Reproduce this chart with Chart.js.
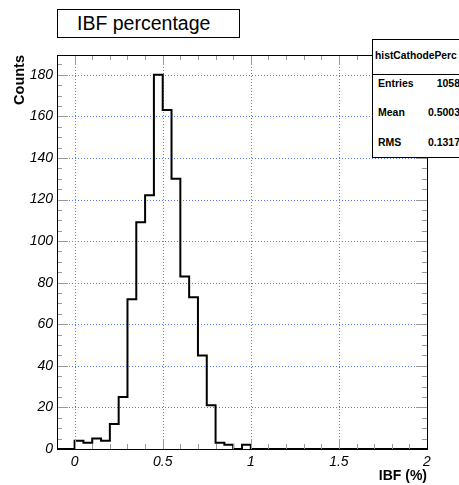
<!DOCTYPE html>
<html>
<head>
<meta charset="utf-8">
<script src="https://cdn.jsdelivr.net/npm/chart.js@4.4.1/dist/chart.umd.min.js"></script>
<style>
  html, body { margin: 0; padding: 0; background: #fff; }
  #wrap { position: relative; width: 459px; height: 485px; overflow: hidden; font-family: "Liberation Sans", Arial, sans-serif; }
  canvas { position: absolute; left: 0; top: 0; }
  #titleBox { position: absolute; left: 57px; top: 9px; width: 181px; height: 27px; border: 1px solid #000; background: #fff; box-sizing: content-box; }
  #titleBox span { position: absolute; left: 19px; top: 2px; font-size: 19.5px; line-height: 22px; color: #000; white-space: nowrap; }
  #stats { position: absolute; left: 372px; top: 39px; width: 100px; height: 117px; border: 1px solid #000; background: #fff; font-weight: bold; font-size: 10.5px; color: #000; }
  #stats .hdr { position: absolute; left: 2px; top: 10px; font-size: 10.3px; white-space: nowrap; }
  #stats .sep { position: absolute; left: 0; top: 34px; width: 100%; height: 1px; background: #000; }
  #stats .row { position: absolute; left: 5px; width: 82px; white-space: nowrap; }
  #stats .row .v { position: absolute; right: 0; top: 0; }
</style>
</head>
<body>
<div id="wrap">
  <canvas id="c" width="459" height="485"></canvas>
  <div id="titleBox"><span>IBF percentage</span></div>
  <div id="stats">
    <div class="hdr" id="statsName"></div>
    <div class="sep"></div>
    <div class="row" style="top:37px"><span id="l0"></span><span class="v" id="v0"></span></div>
    <div class="row" style="top:66px"><span id="l1"></span><span class="v" id="v1"></span></div>
    <div class="row" style="top:96px"><span id="l2"></span><span class="v" id="v2"></span></div>
  </div>
</div>
<script>
// ---- data ----
const histName = "histCathodePerc";
const binEdges = [-0.1, -0.05, 0, 0.05, 0.1, 0.15, 0.2, 0.25, 0.3, 0.35, 0.4, 0.45, 0.5, 0.55, 0.6, 0.65, 0.7, 0.75, 0.8, 0.85, 0.9, 0.95,
                  1.0, 1.05, 1.1, 1.15, 1.2, 1.25, 1.3, 1.35, 1.4, 1.45, 1.5, 1.55, 1.6, 1.65, 1.7, 1.75, 1.8, 1.85, 1.9, 1.95, 2.0];
const counts = [0, 0, 4, 3, 5, 4, 12, 25, 72, 109, 122, 180, 163, 130, 83, 73, 45, 21, 3, 2, 0, 2,
                0, 0, 0, 0, 0, 0, 0, 0, 0, 0, 0, 0, 0, 0, 0, 0, 0, 0, 0, 0];
const xTickValues = [0, 0.5, 1, 1.5, 2];
const xTickLabels = ["0", "0.5", "1", "1.5", "2"];
const yTickValues = [0, 20, 40, 60, 80, 100, 120, 140, 160, 180];
const yTickLabels = ["0", "20", "40", "60", "80", "100", "120", "140", "160", "180"];
const statLabels = ["Entries", "Mean", "RMS"];
const statValues = ["1058", "0.5003", "0.1317"];

document.getElementById('statsName').textContent = histName;
statLabels.forEach((l, i) => {
  document.getElementById('l' + i).textContent = l;
  document.getElementById('v' + i).textContent = statValues[i];
});

// stepped outline points: each bin's low edge with its count, closed by the last edge
const points = counts.map((c, i) => ({ x: binEdges[i], y: c }));
points.push({ x: binEdges[binEdges.length - 1], y: counts[counts.length - 1] });

const FONT = "'Liberation Sans', Arial, sans-serif";

const rootFrame = {
  id: 'rootFrame',
  beforeDatasetsDraw(chart) {
    const { ctx, chartArea: a, scales: { x, y } } = chart;
    ctx.save();
    ctx.strokeStyle = 'rgb(90,120,255)';
    ctx.lineWidth = 1;
    ctx.setLineDash([1, 2]);
    xTickValues.forEach(v => {
      const px = Math.round(x.getPixelForValue(v)) + 0.5;
      if (px <= a.left + 1 || px >= a.right - 1) return;
      ctx.beginPath(); ctx.moveTo(px, a.top); ctx.lineTo(px, a.bottom); ctx.stroke();
    });
    yTickValues.forEach(v => {
      const py = Math.round(y.getPixelForValue(v)) + 0.5;
      if (py >= a.bottom - 1 || py <= a.top + 1) return;
      ctx.beginPath(); ctx.moveTo(a.left, py); ctx.lineTo(a.right, py); ctx.stroke();
    });
    ctx.restore();
  },
  afterDatasetsDraw(chart) {
    const { ctx, chartArea: a, scales: { x, y } } = chart;
    ctx.save();
    ctx.setLineDash([]);
    ctx.lineWidth = 1;
    ctx.strokeStyle = '#999';
    // x ticks: major each 0.5, minor each 0.1, drawn inward at bottom and top
    for (let k = -1; k <= 20; k++) {
      const v = k / 10;
      const px = Math.round(x.getPixelForValue(v)) + 0.5;
      if (px < a.left || px > a.right) continue;
      const len = (k % 5 === 0) ? 10 : 5;
      ctx.beginPath();
      ctx.moveTo(px, a.bottom); ctx.lineTo(px, a.bottom - len);
      ctx.moveTo(px, a.top); ctx.lineTo(px, a.top + len);
      ctx.stroke();
    }
    // y ticks: major each 20, minor each 5, drawn inward at left and right
    for (let k = 0; k <= 38; k++) {
      const v = k * 5;
      const py = Math.round(y.getPixelForValue(v)) + 0.5;
      if (py < a.top || py > a.bottom) continue;
      const len = (k % 4 === 0) ? 11 : 5;
      ctx.beginPath();
      ctx.moveTo(a.left, py); ctx.lineTo(a.left + len, py);
      ctx.moveTo(a.right, py); ctx.lineTo(a.right - len, py);
      ctx.stroke();
    }
    // frame
    ctx.strokeStyle = '#000';
    ctx.lineWidth = 1;
    ctx.strokeRect(Math.round(a.left) + 0.5, Math.round(a.top) + 0.5, Math.round(a.right - a.left), Math.round(a.bottom - a.top));
    ctx.restore();
  }
};

new Chart(document.getElementById('c'), {
  type: 'line',
  data: {
    datasets: [{
      label: histName,
      data: points,
      stepped: true,
      borderColor: '#000',
      borderWidth: 2,
      pointRadius: 0,
      fill: false,
      tension: 0
    }]
  },
  options: {
    responsive: false,
    animation: false,
    events: [],
    layout: { padding: { left: 0, top: 55, right: 32, bottom: 0 } },
    plugins: { legend: { display: false }, tooltip: { enabled: false }, title: { display: false } },
    scales: {
      x: {
        type: 'linear',
        min: -0.1,
        max: 2.0,
        afterBuildTicks: s => { s.ticks = xTickValues.map(v => ({ value: v })); },
        afterFit: s => { s.height = 36; },
        grid: { display: false, drawTicks: false },
        border: { display: false },
        ticks: {
          autoSkip: false,
          maxRotation: 0,
          padding: 5,
          color: '#000',
          font: { family: FONT, size: 14, style: 'italic' },
          callback: (v) => { const i = xTickValues.indexOf(v); return i >= 0 ? xTickLabels[i] : ''; }
        },
        title: {
          display: true,
          text: 'IBF (%)',
          align: 'end',
          color: '#000',
          font: { family: FONT, size: 14, weight: 'bold' },
          padding: { top: 0, bottom: 0 }
        }
      },
      y: {
        type: 'linear',
        min: 0,
        max: 189.5,
        afterBuildTicks: s => { s.ticks = yTickValues.map(v => ({ value: v })); },
        afterFit: s => { s.width = 57; },
        grid: { display: false, drawTicks: false },
        border: { display: false },
        ticks: {
          autoSkip: false,
          padding: 4,
          color: '#000',
          font: { family: FONT, size: 14, style: 'italic' },
          callback: (v) => { const i = yTickValues.indexOf(v); return i >= 0 ? yTickLabels[i] : ''; }
        },
        title: {
          display: true,
          text: 'Counts',
          align: 'end',
          color: '#000',
          font: { family: FONT, size: 14.5, weight: 'bold' },
          padding: { top: 11, bottom: 0 }
        }
      }
    }
  },
  plugins: [rootFrame]
});
</script>
</body>
</html>
